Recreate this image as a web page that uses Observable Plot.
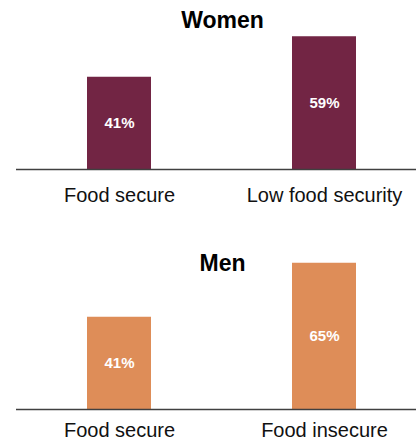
<!DOCTYPE html>
<html>
<head>
<meta charset="utf-8">
<script src="https://cdn.jsdelivr.net/npm/d3@7"></script>
<script src="https://cdn.jsdelivr.net/npm/@observablehq/plot@0.6"></script>
<style>
  html, body { margin: 0; padding: 0; background: #fff; }
  #chart svg { display: block; }
</style>
</head>
<body>
<div id="chart"></div>
<script>
const womenTitle = "Women";
const womenCategories = ["Food secure", "Low food security"];
const womenValues = [41, 59];

const menTitle = "Men";
const menCategories = ["Food secure", "Food insecure"];
const menValues = [41, 65];

const FONT = "'Liberation Sans', Arial, sans-serif";

function panel({title, categories, values, color, height, marginBottom, titleBaseline, tickPadding}) {
  const data = categories.map((c, i) => ({category: c, value: values[i]}));
  const base = height - marginBottom;
  return Plot.plot({
    width: 416,
    height,
    marginTop: 0,
    marginLeft: 16,
    marginRight: 0,
    marginBottom,
    style: {fontFamily: FONT, background: "white", overflow: "visible"},
    x: {domain: categories, range: [87, 356], paddingInner: 0.688, paddingOuter: 0, align: 0.5, label: null},
    y: {domain: [0, 100], range: [base, base - 225], axis: null},
    marks: [
      Plot.barY(data, {x: "category", y: "value", fill: color}),
      Plot.ruleY([0], {stroke: "#404040", strokeWidth: 1.5}),
      Plot.text(data, {
        x: "category", y: d => d.value / 2, text: d => `${d.value}%`,
        fill: "white", fontWeight: "bold", fontSize: 15
      }),
      Plot.axisX({tickSize: 0, tickPadding, fontSize: 20, fill: "#111", label: null}),
      Plot.text([title], {
        frameAnchor: "top", lineAnchor: "bottom", dx: 6, dy: titleBaseline,
        fontSize: 23, fontWeight: "bold", fill: "#000"
      })
    ]
  });
}

const chart = document.getElementById("chart");
chart.append(panel({
  title: womenTitle, categories: womenCategories, values: womenValues,
  color: "#722544", height: 220, marginBottom: 51, titleBaseline: 27, tickPadding: 18
}));
chart.append(panel({
  title: menTitle, categories: menCategories, values: menValues,
  color: "#DE8D58", height: 224, marginBottom: 35, titleBaseline: 50, tickPadding: 13
}));
</script>
</body>
</html>
